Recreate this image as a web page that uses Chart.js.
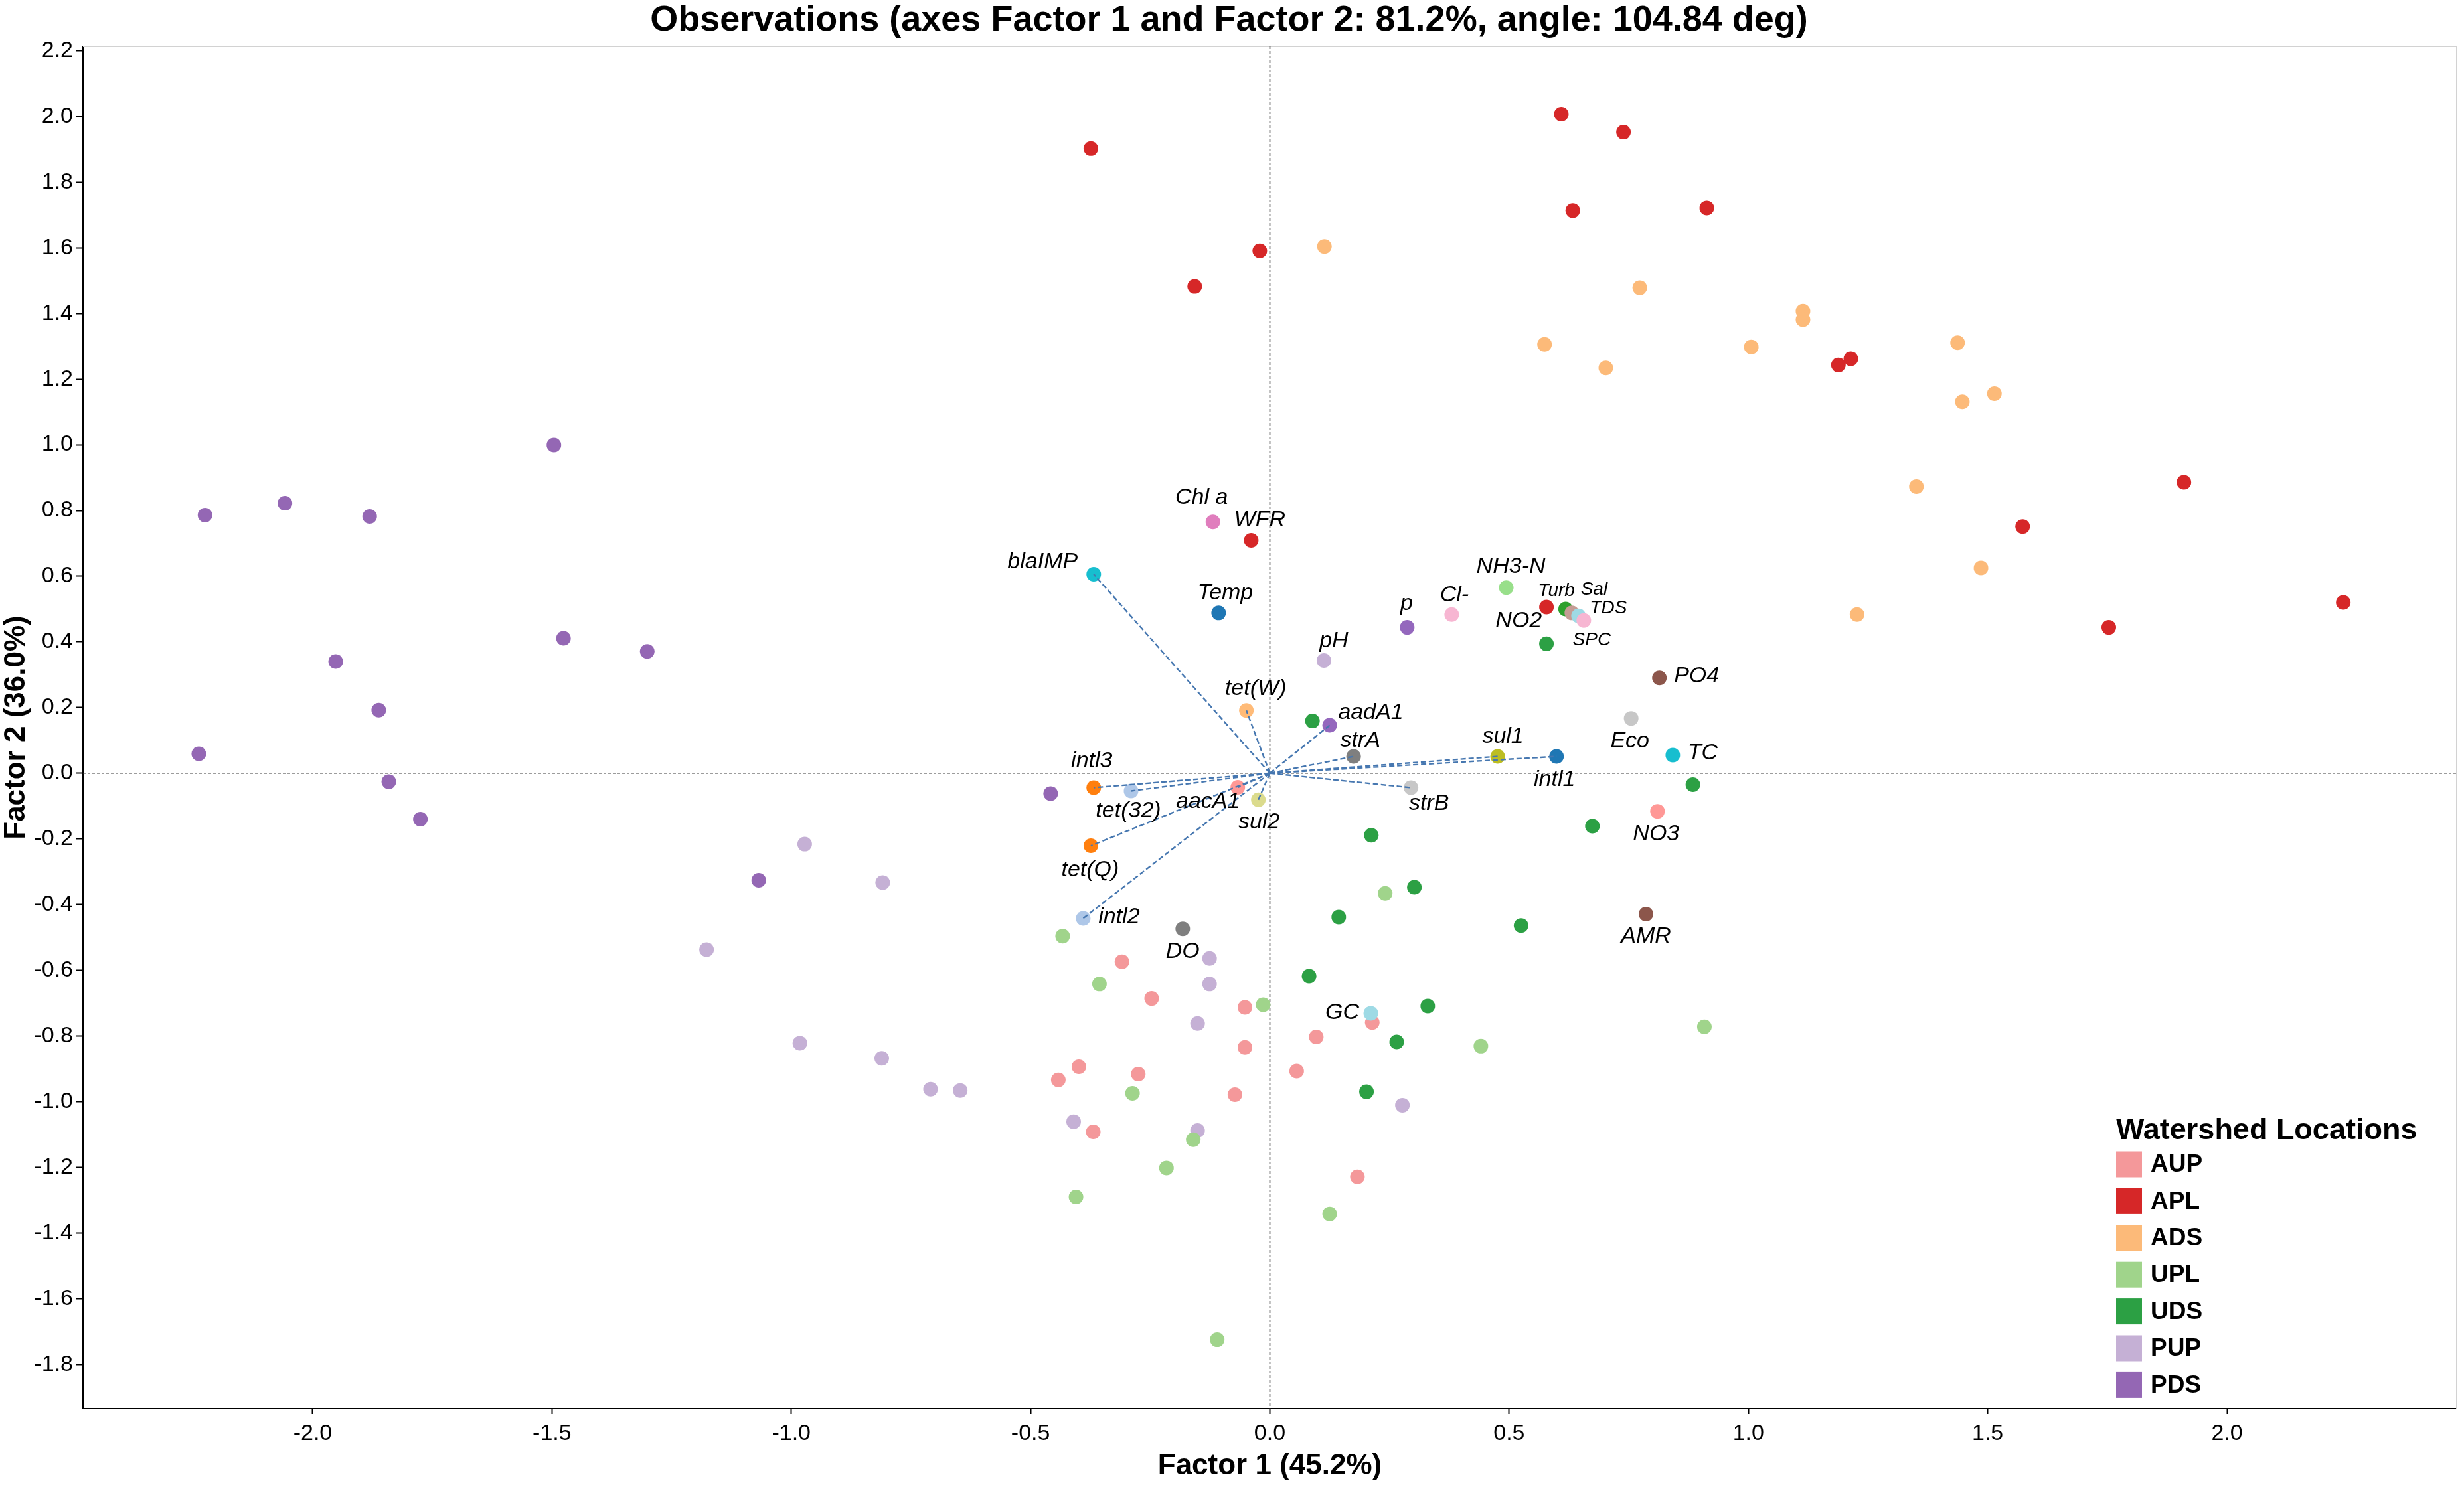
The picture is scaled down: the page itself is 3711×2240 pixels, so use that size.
<!DOCTYPE html>
<html>
<head>
<meta charset="utf-8">
<script src="https://cdn.jsdelivr.net/npm/chart.js@4.4.1/dist/chart.umd.min.js"></script>
<style>
  html, body { margin: 0; padding: 0; background: #fff; }
  #wrap { width: 3711px; height: 2240px; }
</style>
</head>
<body>
<div id="wrap"><canvas id="biplot" width="3711" height="2240"></canvas></div>
<script>
/* PCA biplot: observations by watershed location + variable loadings */
const FONT = '"Liberation Sans", Arial, Helvetica, sans-serif';

// ---- observations (Factor 1, Factor 2) per watershed location ----
const GROUPS = ["AUP", "APL", "ADS", "UPL", "UDS", "PUP", "PDS"];
const GROUP_COLORS = ["#f4989a", "#d62728", "#fcba79", "#a0d48b", "#2ca044", "#c5b0d5", "#9467b4"];
const AUP = [[-0.309,-0.574],[-0.247,-0.686],[-0.052,-0.713],[-0.052,-0.835],[0.097,-0.803],[0.214,-0.759],[-0.399,-0.894],[-0.442,-0.934],[-0.275,-0.916],[-0.073,-0.979],[0.056,-0.907],[-0.369,-1.092],[0.183,-1.229]];
const APL = [[-0.374,1.902],[-0.021,1.591],[-0.157,1.482],[0.609,2.007],[0.739,1.952],[0.633,1.713],[0.913,1.721],[1.188,1.243],[1.214,1.262],[1.910,0.886],[1.573,0.751],[2.243,0.520],[1.753,0.444]];
const ADS = [[0.114,1.604],[0.773,1.478],[0.574,1.306],[0.702,1.234],[1.114,1.407],[1.114,1.381],[1.006,1.298],[1.437,1.311],[1.514,1.156],[1.447,1.131],[1.351,0.873],[1.486,0.625],[1.227,0.483]];
const UPL = [[-0.433,-0.496],[-0.356,-0.642],[-0.014,-0.705],[0.441,-0.831],[-0.287,-0.975],[-0.160,-1.116],[-0.216,-1.202],[-0.405,-1.290],[0.125,-1.342],[-0.110,-1.725],[0.241,-0.366],[0.908,-0.772]];
const UDS = [[0.089,0.159],[0.578,0.394],[0.212,-0.189],[0.302,-0.347],[0.144,-0.438],[0.525,-0.464],[0.082,-0.618],[0.674,-0.161],[0.884,-0.035],[0.330,-0.709],[0.265,-0.818],[0.202,-0.970]];
const PUP = [[-0.972,-0.216],[-1.177,-0.537],[-0.982,-0.822],[-0.809,-0.333],[-0.126,-0.564],[-0.126,-0.642],[-0.151,-0.762],[-0.811,-0.868],[-0.709,-0.962],[-0.647,-0.966],[0.277,-1.011],[-0.410,-1.061],[-0.151,-1.088]];
const PDS = [[-2.225,0.786],[-2.058,0.822],[-1.881,0.782],[-1.496,0.999],[-1.952,0.340],[-1.862,0.192],[-1.476,0.411],[-1.301,0.371],[-2.238,0.059],[-1.841,-0.026],[-1.775,-0.140],[-1.068,-0.326],[-0.458,-0.062]];
const GROUP_DATA = [AUP, APL, ADS, UPL, UDS, PUP, PDS];

// ---- variables ----
const VAR_NAMES = ["Chl a","WFR","blaIMP","Temp","pH","p","Cl-","NH3-N","Turb","Sal","NO2","SPC","TDS","PO4","Eco","TC","NO3","AMR","DO","GC",
                   "tet(W)","aadA1","strA","sul1","intl1","strB","intl3","tet(32)","aacA1","sul2","tet(Q)","intl2"];
const VAR_X = [-0.119,-0.039,-0.368,-0.107,0.113,0.287,0.380,0.494,0.578,0.618,0.631,0.645,0.656,0.814,0.755,0.842,0.810,0.786,-0.182,0.211,
               -0.049,0.125,0.175,0.476,0.599,0.295,-0.368,-0.290,-0.067,-0.024,-0.374,-0.390];
const VAR_Y = [0.765,0.709,0.606,0.488,0.343,0.444,0.483,0.565,0.506,0.500,0.488,0.479,0.465,0.290,0.167,0.055,-0.116,-0.429,-0.474,-0.731,
               0.191,0.146,0.051,0.051,0.051,-0.044,-0.044,-0.054,-0.043,-0.081,-0.221,-0.442];
const VAR_COLORS = ["#e07dbd","#d62728","#17becf","#1f77b4","#c5b0d5","#9467bd","#f7b6d2","#98df8a","#d62728","#2ca02c","#c49c94","#9edae5","#f7b6d2","#8c564b","#c7c7c7","#17becf","#ff9896","#8c564b","#7f7f7f","#9edae5",
                    "#ffbb78","#9467bd","#7f7f7f","#bcbd22","#1f77b4","#c7c7c7","#ff7f0e","#aec7e8","#ff9896","#dbdb8d","#ff7f0e","#aec7e8"];
// variables drawn as vectors from the origin
const ARROW_VARS = ["blaIMP","tet(W)","aadA1","strA","sul1","intl1","strB","intl3","tet(32)","aacA1","sul2","tet(Q)","intl2"];

// label placement (px offset of label centre from its point) - layout only
const LABEL_OFFSETS = {
  "Chl a":[-17,-37], "WFR":[13,-30], "blaIMP":[-77,-18], "Temp":[10,-30], "pH":[15,-30], "p":[-1,-36], "Cl-":[4,-29],
  "NH3-N":[7,-32], "Turb":[15,-24], "Sal":[43,-29], "NO2":[-80,12], "SPC":[20,36], "TDS":[37,-19], "PO4":[56,-3],
  "Eco":[-2,34], "TC":[45,-3], "NO3":[-2,34], "AMR":[0,34], "DO":[0,34], "GC":[-43,-1], "tet(W)":[14,-33],
  "aadA1":[62,-19], "strA":[10,-24], "sul1":[8,-30], "intl1":[-3,35], "strB":[27,24], "intl3":[-3,-40],
  "tet(32)":[-4,30], "aacA1":[-45,22], "sul2":[1,34], "tet(Q)":[-1,36], "intl2":[54,-2]
};
const SMALL_LABELS = ["Turb", "Sal", "TDS", "SPC"];

Chart.defaults.font.family = FONT;
Chart.defaults.color = "#000";

const fmt = (v) => (Math.abs(v) < 1e-9 ? "0.0" : v.toFixed(1));

const datasets = [];
ARROW_VARS.forEach((name) => {
  const i = VAR_NAMES.indexOf(name);
  datasets.push({
    type: "line", label: name, data: [{ x: 0, y: 0 }, { x: VAR_X[i], y: VAR_Y[i] }],
    borderColor: "#4677b0", borderWidth: 2.4, borderDash: [8, 4], pointRadius: 0, fill: false, order: 1,
  });
});
datasets.push({
  label: "variables", data: VAR_NAMES.map((n, i) => ({ x: VAR_X[i], y: VAR_Y[i] })),
  backgroundColor: VAR_COLORS, borderWidth: 0, pointRadius: 11, order: 2,
});
GROUPS.forEach((g, k) => {
  datasets.push({
    label: g, data: GROUP_DATA[k].map(([x, y]) => ({ x, y })),
    backgroundColor: GROUP_COLORS[k], borderWidth: 0, pointRadius: 11, order: 3,
  });
});
const VAR_IDX = ARROW_VARS.length;

const refLines = {
  id: "refLines",
  beforeDatasetsDraw(chart) {
    const { ctx, chartArea: a, scales: { x, y } } = chart;
    ctx.save();
    ctx.strokeStyle = "#d2d2d2"; ctx.lineWidth = 2;
    ctx.beginPath(); ctx.moveTo(a.left, a.top); ctx.lineTo(a.right, a.top); ctx.lineTo(a.right, a.bottom); ctx.stroke();
    const x0 = x.getPixelForValue(0), y0 = y.getPixelForValue(0);
    ctx.strokeStyle = "#3a3a3a"; ctx.lineWidth = 1.6; ctx.setLineDash([4, 3]);
    ctx.beginPath();
    ctx.moveTo(x0, a.top); ctx.lineTo(x0, a.bottom);
    ctx.moveTo(a.left, y0); ctx.lineTo(a.right, y0);
    ctx.stroke();
    ctx.restore();
  },
};

const varLabels = {
  id: "varLabels",
  afterDatasetsDraw(chart) {
    const ctx = chart.ctx;
    const pts = chart.getDatasetMeta(VAR_IDX).data;
    ctx.save();
    ctx.fillStyle = "#000"; ctx.textAlign = "center"; ctx.textBaseline = "middle";
    VAR_NAMES.forEach((n, i) => {
      const [dx, dy] = LABEL_OFFSETS[n] || [0, -30];
      ctx.font = `italic ${SMALL_LABELS.includes(n) ? 28 : 34}px ${FONT}`;
      ctx.fillText(n, pts[i].x + dx, pts[i].y + dy);
    });
    ctx.restore();
  },
};

const groupLegend = {
  id: "groupLegend",
  afterDraw(chart) {
    const { ctx, chartArea: a } = chart;
    const left = a.right - 513, top = a.bottom - 420;
    ctx.save();
    ctx.fillStyle = "#000"; ctx.textAlign = "left"; ctx.textBaseline = "middle";
    ctx.font = `bold 45px ${FONT}`;
    ctx.fillText("Watershed Locations", left, top + 2);
    ctx.font = `bold 37px ${FONT}`;
    GROUPS.forEach((g, i) => {
      const cy = top + 52 + i * 55.4;
      ctx.fillStyle = GROUP_COLORS[i];
      ctx.fillRect(left, cy - 19.5, 39, 39);
      ctx.fillStyle = "#000";
      ctx.fillText(g, left + 52, cy + 1);
    });
    ctx.restore();
  },
};

new Chart(document.getElementById("biplot"), {
  type: "scatter",
  data: { datasets },
  options: {
    responsive: false, devicePixelRatio: 1, animation: false,
    layout: { padding: { top: 0, left: 0, right: 9, bottom: 0 } },
    plugins: {
      legend: { display: false }, tooltip: { enabled: false },
      title: {
        display: true, text: "Observations (axes Factor 1 and Factor 2: 81.2%, angle: 104.84 deg)",
        font: { size: 54, weight: "bold", lineHeight: 1 }, color: "#000", padding: { top: 4, bottom: 12 },
      },
    },
    scales: {
      x: {
        type: "linear", min: -2.48, max: 2.48,
        ticks: { stepSize: 0.5, includeBounds: false, autoSkip: false, maxRotation: 0, font: { size: 34 }, color: "#000", padding: 9, callback: fmt },
        grid: { drawOnChartArea: false, drawTicks: true, tickLength: 8, tickColor: "#000", tickWidth: 2 },
        border: { display: true, color: "#000", width: 2 },
        title: { display: true, text: "Factor 1 (45.2%)", font: { size: 44, weight: "bold", lineHeight: 1.41 }, color: "#000", padding: 0 },
        afterFit(s) { s.height = 118; },
      },
      y: {
        type: "linear", min: -1.935, max: 2.213,
        ticks: { stepSize: 0.2, includeBounds: false, autoSkip: false, font: { size: 34 }, color: "#000", padding: 5, callback: fmt },
        grid: { drawOnChartArea: false, drawTicks: true, tickLength: 10, tickColor: "#000", tickWidth: 2 },
        border: { display: true, color: "#000", width: 2 },
        title: { display: true, text: "Factor 2 (36.0%)", font: { size: 44, weight: "bold", lineHeight: 1.136 }, color: "#000", padding: 0 },
        afterFit(s) { s.width = 125; },
      },
    },
  },
  plugins: [refLines, varLabels, groupLegend],
});
</script>
</body>
</html>
